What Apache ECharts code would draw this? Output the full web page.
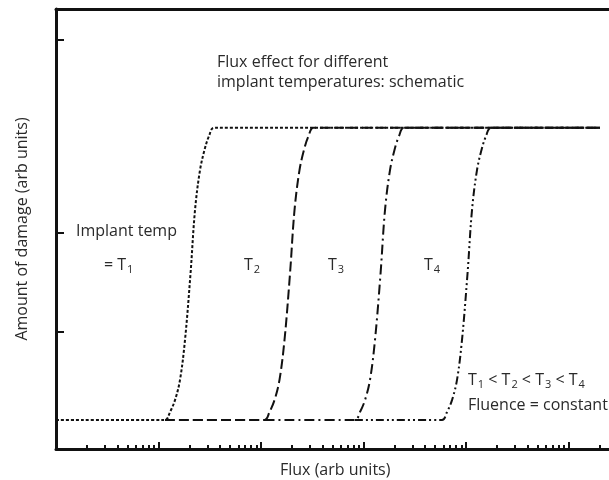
<!DOCTYPE html>
<html>
<head>
<meta charset="utf-8">
<script src="https://cdn.jsdelivr.net/npm/echarts@6/dist/echarts.min.js"></script>
<style>html,body{margin:0;padding:0;background:#fff}#c{width:609px;height:480px}</style>
</head>
<body>
<div id="c"></div>
<script>
// Flux (arb units, log scale) and damage (arb units)
const t1Flux   = [1, 11.57, 12.95, 14.49, 16.21, 18.14, 20.52, 22.71, 25.41, 28.43, 31.10, 34.79, 203000];
const t1Damage = [6.6, 6.6, 8.4, 11.1, 15.7, 24.8, 39.8, 54.3, 63.4, 68.4, 71.1, 73.0, 73.0];

const t2Flux   = [11.57, 108.2, 121.0, 135.4, 151.5, 169.6, 191.8, 212.3, 237.5, 265.7, 290.7, 325.2, 203000];
const t2Damage = [6.6, 6.6, 8.4, 11.1, 15.7, 24.8, 39.8, 54.3, 63.4, 68.4, 71.1, 73.0, 73.0];

const t3Flux   = [108.2, 826, 924, 1034, 1157, 1295, 1466, 1621, 1814, 2029, 2220, 2484, 203000];
const t3Damage = [6.6, 6.6, 8.4, 11.1, 15.7, 24.8, 39.8, 54.3, 63.4, 68.4, 71.1, 73.0, 73.0];

const t4Flux   = [826, 5834, 6525, 7302, 8171, 9142, 10342, 11443, 12802, 14324, 15670, 17535, 203000];
const t4Damage = [6.6, 6.6, 8.4, 11.1, 15.7, 24.8, 39.8, 54.3, 63.4, 68.4, 71.1, 73.0, 73.0];

const majorTicks = [10, 100, 1000, 10000, 100000];
const minorTicks = [2,3,4,5,6,7,8,9, 20,30,40,50,60,70,80,90, 200,300,400,500,600,700,800,900,
                    2000,3000,4000,5000,6000,7000,8000,9000, 20000,30000,40000,50000,60000,70000,80000,90000,
                    200000,300000,400000,500000,600000,700000,800000,900000];
const yTicks = [26.6, 49.1, 93];

const xName = 'Flux (arb units)';
const yName = 'Amount of damage (arb units)';
const titleLines = ['Flux effect for different', 'implant temperatures: schematic'];

function pairs(xs, ys) { return xs.map((x, i) => [x, ys[i]]); }

const FONT = 'Open Sans';
const TXT = '#2a2a2a';
const FS = 16;

const chart = echarts.init(document.getElementById('c'), null, {renderer: 'canvas'});
const subRich = {
  s: {fontSize: 11, fontFamily: FONT, color: TXT, verticalAlign: 'bottom', padding: [0, 0, 0, 1]}
};
function label(x, y, text) {
  return {
    type: 'text', x: x, y: y, z: 10,
    style: {text: text, fontFamily: FONT, fontSize: FS, lineHeight: 20, fill: TXT,
            verticalAlign: 'middle', align: 'left', rich: subRich}
  };
}
const hidden = {axisLabel: {show: false}, splitLine: {show: false}, minorTick: {show: false}};

chart.setOption({
  animation: false,
  grid: {left: 56, top: 9, height: 440, width: 615, show: false,
         outerBoundsMode: 'none', containLabel: false},
  xAxis: [
    Object.assign({type: 'log', logBase: 10, min: 1, max: 1000000, position: 'bottom',
     axisLine: {show: true, lineStyle: {color: '#111', width: 3}},
     axisTick: {show: true, inside: true, length: 7, lineStyle: {color: '#111', width: 2}, customValues: majorTicks}}, hidden),
    Object.assign({type: 'log', logBase: 10, min: 1, max: 1000000, position: 'bottom',
     axisLine: {show: false},
     axisTick: {show: true, inside: true, length: 4, lineStyle: {color: '#111', width: 2}, customValues: minorTicks}}, hidden),
    Object.assign({type: 'log', logBase: 10, min: 1, max: 1000000, position: 'top',
     axisLine: {show: true, lineStyle: {color: '#111', width: 3}},
     axisTick: {show: false}}, hidden)
  ],
  yAxis: {type: 'value', min: 0, max: 100,
    name: yName, nameLocation: 'middle', nameGap: 26, nameRotate: 90,
    nameTextStyle: {fontFamily: FONT, fontSize: FS, color: TXT},
    axisLine: {show: true, lineStyle: {color: '#111', width: 3}},
    axisTick: {show: true, inside: true, length: 8, lineStyle: {color: '#111', width: 2}, customValues: yTicks},
    axisLabel: {show: false}, splitLine: {show: false}},
  series: [
    {name: 'T1', type: 'line', data: pairs(t1Flux, t1Damage), showSymbol: false, smooth: 0.35,
     lineStyle: {color: '#111', width: 2, type: [3, 2]}},
    {name: 'T2', type: 'line', data: pairs(t2Flux, t2Damage), showSymbol: false, smooth: 0.35,
     lineStyle: {color: '#111', width: 2, type: [10, 4]}},
    {name: 'T3', type: 'line', data: pairs(t3Flux, t3Damage), showSymbol: false, smooth: 0.35,
     lineStyle: {color: '#111', width: 2, type: [10, 4, 2, 4]}},
    {name: 'T4', type: 'line', data: pairs(t4Flux, t4Damage), showSymbol: false, smooth: 0.35,
     lineStyle: {color: '#111', width: 2, type: [8, 3, 2, 3, 2, 3]}}
  ],
  graphic: [
    label(217, 62, titleLines[0]),
    label(217, 82, titleLines[1]),
    label(76, 231, 'Implant temp'),
    label(104, 265, '= T{s|1}'),
    label(244, 265, 'T{s|2}'),
    label(328, 265, 'T{s|3}'),
    label(424, 265, 'T{s|4}'),
    label(468, 380, 'T{s|1} < T{s|2} < T{s|3} < T{s|4}'),
    label(468, 405, 'Fluence = constant'),
    label(280, 470, xName)
  ]
});
</script>
</body>
</html>
